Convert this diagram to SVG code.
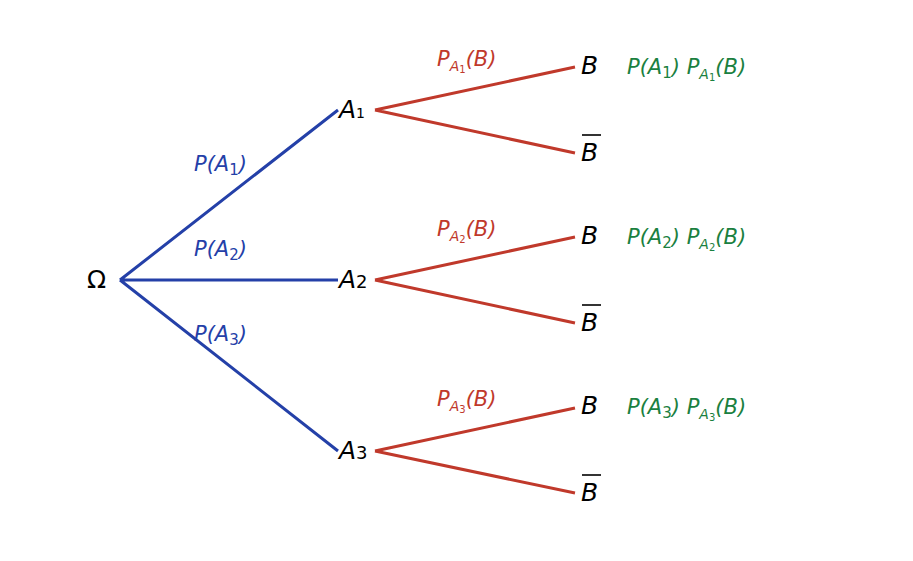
<svg xmlns="http://www.w3.org/2000/svg" width="913" height="561" viewBox="0 0 913 561">
<style>
text{font-family:"DejaVu Sans",sans-serif;font-style:italic}
.n{font-size:25px;fill:#000}
.b{font-size:21px;fill:#2440a8}
.r{font-size:21px;fill:#c0392b}
.g{font-size:21px;fill:#1a8040}
.s{font-size:14px}
.up{font-style:normal}
.bl{stroke:#2440a8;stroke-width:3;fill:none}
.rl{stroke:#c0392b;stroke-width:3;fill:none}
.ov{stroke:#000;stroke-width:1.6}
</style>
<rect width="913" height="561" fill="#fff"/>
<g id="connectors">
<path class="bl" d="M120 280L338 110M120 280H338M120 280L338 451"/>
<path class="rl" d="M375 110L575 67M375 110L575 153M375 280L575 237M375 280L575 323M375 451L575 408M375 451L575 493"/>
</g>
<g id="omega"><text class="n up" x="87" y="288">Ω</text></g>
<g id="A1"><text class="n" x="339" y="118">A<tspan class="s up" font-size="18" dy="0">1</tspan></text></g>
<g id="A2"><text class="n" x="339" y="288">A<tspan font-size="18" style="font-style:normal">2</tspan></text></g>
<g id="A3"><text class="n" x="339" y="459">A<tspan font-size="18" style="font-style:normal">3</tspan></text></g>
<g id="labels-blue">
<text class="b" x="194" y="171">P(A<tspan font-size="15" dy="4" style="font-style:normal">1</tspan><tspan dy="-4">)</tspan></text>
<text class="b" x="194" y="256">P(A<tspan font-size="15" dy="4" style="font-style:normal">2</tspan><tspan dy="-4">)</tspan></text>
<text class="b" x="194" y="341">P(A<tspan font-size="15" dy="4" style="font-style:normal">3</tspan><tspan dy="-4">)</tspan></text>
</g>
<g id="labels-red">
<text class="r" x="437" y="66">P<tspan font-size="14" dy="5">A</tspan><tspan font-size="10" dy="2" style="font-style:normal">1</tspan><tspan dy="-7">(B)</tspan></text>
<text class="r" x="437" y="236">P<tspan font-size="14" dy="5">A</tspan><tspan font-size="10" dy="2" style="font-style:normal">2</tspan><tspan dy="-7">(B)</tspan></text>
<text class="r" x="437" y="406">P<tspan font-size="14" dy="5">A</tspan><tspan font-size="10" dy="2" style="font-style:normal">3</tspan><tspan dy="-7">(B)</tspan></text>
</g>
<g id="B1"><text class="n" x="581" y="74">B</text></g>
<g id="Bbar1"><text class="n" x="581" y="161">B</text><line class="ov" x1="582" y1="135" x2="601" y2="135"/></g>
<g id="B2"><text class="n" x="581" y="244">B</text></g>
<g id="Bbar2"><text class="n" x="581" y="331">B</text><line class="ov" x1="582" y1="305" x2="601" y2="305"/></g>
<g id="B3"><text class="n" x="581" y="414">B</text></g>
<g id="Bbar3"><text class="n" x="581" y="501">B</text><line class="ov" x1="582" y1="475" x2="601" y2="475"/></g>
<g id="products">
<text class="g" x="627" y="74">P(A<tspan font-size="15" dy="4" style="font-style:normal">1</tspan><tspan dy="-4">) P</tspan><tspan font-size="14" dy="5">A</tspan><tspan font-size="10" dy="2" style="font-style:normal">1</tspan><tspan dy="-7">(B)</tspan></text>
<text class="g" x="627" y="244">P(A<tspan font-size="15" dy="4" style="font-style:normal">2</tspan><tspan dy="-4">) P</tspan><tspan font-size="14" dy="5">A</tspan><tspan font-size="10" dy="2" style="font-style:normal">2</tspan><tspan dy="-7">(B)</tspan></text>
<text class="g" x="627" y="414">P(A<tspan font-size="15" dy="4" style="font-style:normal">3</tspan><tspan dy="-4">) P</tspan><tspan font-size="14" dy="5">A</tspan><tspan font-size="10" dy="2" style="font-style:normal">3</tspan><tspan dy="-7">(B)</tspan></text>
</g>
</svg>
